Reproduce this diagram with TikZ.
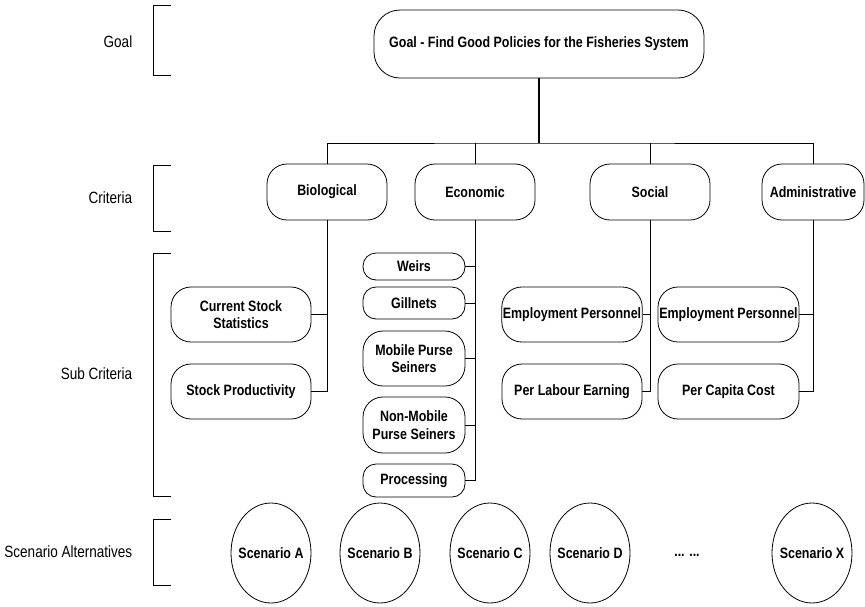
\documentclass[tikz,border=0pt]{standalone}
\usepackage{fontspec}
\setmainfont{Liberation Sans}[FakeStretch=0.83]
\usepackage{tikz}
\usetikzlibrary{shapes.geometric}

\begin{document}
\begin{tikzpicture}[x=1pt, y=-1pt, line width=0.8pt,
    levellabel/.style={anchor=east, font=\fontsize{16.3}{18}\selectfont},
    box/.style={draw, rounded corners=20pt, align=center, inner sep=1pt,
      font=\bfseries\fontsize{15}{17.5}\selectfont},
    smallbox/.style={box, rounded corners=13pt, minimum width=102pt},
    scen/.style={ellipse, draw, minimum width=80pt, minimum height=100pt, inner sep=0pt},
    every label/.style={font=\bfseries\fontsize{15}{17.5}\selectfont}]
  \useasboundingbox (0,0) rectangle (865,606);
  % Level labels and brackets
  \foreach \y/\n/\t in {42/lgoal/Goal, 198/lcrit/Criteria, 374/lsub/Sub Criteria, 552/lscen/Scenario Alternatives}
    \node[levellabel] (\n) at (136,\y) {\t};
  \foreach \t/\b in {5/75, 165/231, 253/496, 519/585}
    \draw (171,\t) -| (153,\b) -- (171,\b);
  % Goal
  \node[box, minimum width=330pt, minimum height=68pt, rounded corners=26pt] (goal) at (539,44)
    {Goal - Find Good Policies for the Fisheries System};
  % Criteria
  \node[box, minimum width=120pt, minimum height=56pt] (bio) at (327,192) {Biological};
  \node[box, minimum width=120pt, minimum height=56pt] (eco) at (475,192) {Economic};
  \node[box, minimum width=120pt, minimum height=56pt] (soc) at (650,192) {Social};
  \node[box, minimum width=102pt, minimum height=56pt] (adm) at (813,192) {Administrative};
  \coordinate (bar) at (539,143);
  \draw[line width=1.3pt] (goal) -- (bar);
  \draw (bio) |- (bar) -| (adm);
  \draw (eco) -- (eco |- bar);
  \draw (soc) -- (soc |- bar);
  % Sub criteria - biological
  \node[box, minimum width=140pt, minimum height=55pt] (stat) at (241,314.5) {Current Stock\\Statistics};
  \node[box, minimum width=140pt, minimum height=55pt] (prod) at (241,391.5) {Stock Productivity};
  \draw (bio) |- (stat);
  \draw (bio) |- (prod);
  % Sub criteria - economic
  \node[smallbox, minimum height=27pt] (weirs) at (414,266.5) {Weirs};
  \node[smallbox, minimum height=32pt] (gill) at (414,303) {Gillnets};
  \node[box, minimum width=102pt, minimum height=55pt] (mob) at (414,358.5) {Mobile Purse\\Seiners};
  \node[box, minimum width=102pt, minimum height=56pt] (nonmob) at (414,425) {Non-Mobile\\Purse Seiners};
  \node[smallbox, minimum height=33pt] (proc) at (414,480.5) {Processing};
  \foreach \s in {weirs, gill, mob, nonmob, proc}
    \draw (eco) |- (\s);
  % Sub criteria - social
  \node[box, minimum width=140pt, minimum height=55pt] (semp) at (572,314.5) {Employment Personnel};
  \node[box, minimum width=140pt, minimum height=55pt] (earn) at (572,391.5) {Per Labour Earning};
  \draw (soc) |- (semp);
  \draw (soc) |- (earn);
  % Sub criteria - administrative
  \node[box, minimum width=141pt, minimum height=55pt] (aemp) at (728.5,314.5) {Employment Personnel};
  \node[box, minimum width=141pt, minimum height=55pt] (cost) at (728.5,391.5) {Per Capita Cost};
  \draw (adm) |- (aemp);
  \draw (adm) |- (cost);
  % Scenario alternatives
  \foreach \x/\n/\t in {271/sa/A, 380/sb/B, 490/sc/C, 590/sd/D, 812/sx/X}
    \node[scen, label=center:Scenario \t] (\n) at (\x,553) {};
  \node[font=\bfseries\fontsize{15}{17.5}\selectfont] (dots) at (687,555) {... ...};
\end{tikzpicture}
\end{document}
